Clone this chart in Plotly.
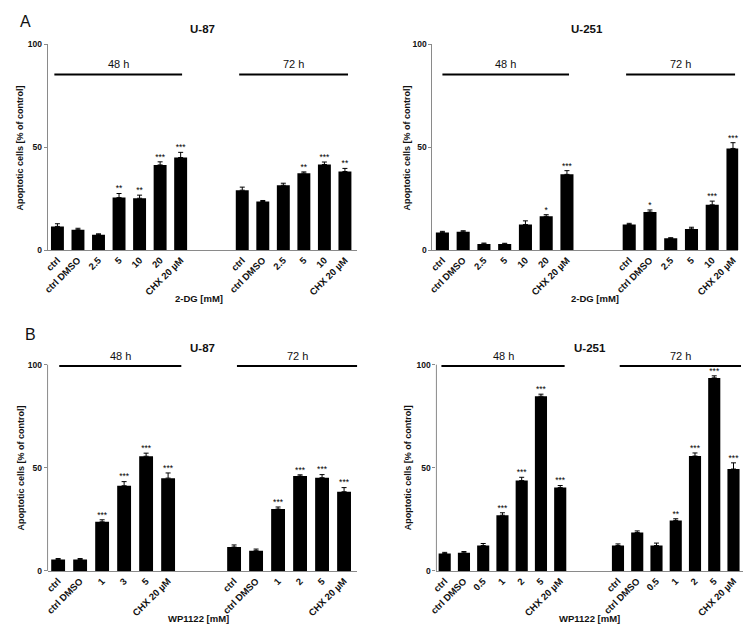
import plotly.graph_objects as go

W, H = 755, 634

# ---------------- data ----------------
# Panel A, U-87 (2-DG)
a87_cats_48 = ["ctrl", "ctrl DMSO", "2.5", "5", "10", "20", "CHX 20 µM"]
a87_vals_48 = [11.5, 9.9, 7.5, 25.5, 25.2, 41.4, 45.0]
a87_err_48 = [1.3, 0.7, 0.4, 2.0, 1.5, 1.5, 2.5]
a87_sig_48 = ["", "", "", "**", "**", "***", "***"]
a87_cats_72 = ["ctrl", "ctrl DMSO", "2.5", "5", "10", "CHX 20 µM"]
a87_vals_72 = [29.1, 23.6, 31.5, 37.4, 41.6, 38.2]
a87_err_72 = [1.5, 0.5, 1.0, 0.6, 1.2, 1.5]
a87_sig_72 = ["", "", "", "**", "***", "**"]

# Panel A, U-251 (2-DG)
a251_cats_48 = ["ctrl", "ctrl DMSO", "2.5", "5", "10", "20", "CHX 20 µM"]
a251_vals_48 = [8.6, 8.9, 3.0, 2.9, 12.4, 16.4, 36.8]
a251_err_48 = [0.5, 0.5, 0.4, 0.4, 1.8, 0.8, 1.8]
a251_sig_48 = ["", "", "", "", "", "*", "***"]
a251_cats_72 = ["ctrl", "ctrl DMSO", "2.5", "5", "10", "CHX 20 µM"]
a251_vals_72 = [12.4, 18.5, 5.7, 10.3, 22.0, 49.4]
a251_err_72 = [0.6, 1.0, 0.3, 0.8, 1.8, 2.8]
a251_sig_72 = ["", "*", "", "", "***", "***"]

# Panel B, U-87 (WP1122)
b87_cats_48 = ["ctrl", "ctrl DMSO", "1", "3", "5", "CHX 20 µM"]
b87_vals_48 = [5.6, 5.6, 23.8, 41.3, 55.6, 45.0]
b87_err_48 = [0.4, 0.4, 1.0, 2.0, 1.5, 2.5]
b87_sig_48 = ["", "", "***", "***", "***", "***"]
b87_cats_72 = ["ctrl", "ctrl DMSO", "1", "2", "5", "CHX 20 µM"]
b87_vals_72 = [11.6, 9.8, 30.0, 46.0, 45.2, 38.4]
b87_err_72 = [1.0, 0.8, 1.0, 0.6, 1.5, 2.0]
b87_sig_72 = ["", "", "***", "***", "***", "***"]

# Panel B, U-251 (WP1122)
b251_cats_48 = ["ctrl", "ctrl DMSO", "0.5", "1", "2", "5", "CHX 20 µM"]
b251_vals_48 = [8.4, 8.8, 12.3, 27.0, 43.8, 84.7, 40.4]
b251_err_48 = [0.6, 0.6, 1.0, 1.2, 1.6, 1.0, 1.0]
b251_sig_48 = ["", "", "", "***", "***", "***", "***"]
b251_cats_72 = ["ctrl", "ctrl DMSO", "0.5", "1", "2", "5", "CHX 20 µM"]
b251_vals_72 = [12.3, 18.6, 12.3, 24.5, 55.7, 93.6, 49.4]
b251_err_72 = [0.8, 0.8, 1.2, 0.8, 1.5, 1.0, 3.0]
b251_sig_72 = ["", "", "", "**", "***", "***", "***"]

y_ticks = [0, 50, 100]
group_labels = ["48 h", "72 h"]

# ---------------- layout config (pixels) ----------------
panels = [
    dict(name="U-87", xlabel="2-DG [mM]",
         d48=(a87_cats_48, a87_vals_48, a87_err_48, a87_sig_48),
         d72=(a87_cats_72, a87_vals_72, a87_err_72, a87_sig_72),
         px=(40, 353), py=(249, 40), yr=(0, 100), xr=(-0.48, 14.6),
         line_y=85.4, span48=(-0.15, 0.07), span72=(-0.15, 0.15),
         title_xy=(197, 24), ytitle_xy=(12, 145), xtitle_xy=(193, 298), spine=False),
    dict(name="U-251", xlabel="2-DG [mM]",
         d48=(a251_cats_48, a251_vals_48, a251_err_48, a251_sig_48),
         d72=(a251_cats_72, a251_vals_72, a251_err_72, a251_sig_72),
         px=(429, 738), py=(249, 40), yr=(0, 100), xr=(-0.48, 14.25),
         line_y=85.4, span48=(0.0, 0.1), span72=(-0.15, 0.1),
         title_xy=(585, 24), ytitle_xy=(403, 145), xtitle_xy=(593, 298), spine=False),
    dict(name="U-87", xlabel="WP1122 [mM]",
         d48=(b87_cats_48, b87_vals_48, b87_err_48, b87_sig_48),
         d72=(b87_cats_72, b87_vals_72, b87_err_72, b87_sig_72),
         px=(40, 353), py=(575, 344.5), yr=(0, 110), xr=(-0.48, 13.6),
         line_y=99.4, span48=(0.05, 0.6), span72=(0.13, 0.6),
         title_xy=(197, 348), ytitle_xy=(13, 470), xtitle_xy=(193, 623), spine=True),
    dict(name="U-251", xlabel="WP1122 [mM]",
         d48=(b251_cats_48, b251_vals_48, b251_err_48, b251_sig_48),
         d72=(b251_cats_72, b251_vals_72, b251_err_72, b251_sig_72),
         px=(433, 743), py=(575, 344.5), yr=(0, 110), xr=(-0.43, 15.5),
         line_y=99.4, span48=(-0.17, 0.23), span72=(0.09, 0.39),
         title_xy=(588, 348), ytitle_xy=(404, 470), xtitle_xy=(588, 623), spine=True),
]

FONT = "Liberation Sans, Arial, sans-serif"
AXIS_GRAY = "#8a8a8a"

fig = go.Figure()
layout = dict(width=W, height=H, margin=dict(l=0, r=0, t=0, b=0),
              paper_bgcolor="white", plot_bgcolor="white", showlegend=False,
              font=dict(family=FONT, color="#111"))
shapes, annotations = [], []

def px2x(p):
    return p / W

def py2y(p):
    return 1 - p / H

def paper_text(xy, text, size, angle=0):
    return dict(xref="paper", yref="paper", x=px2x(xy[0]), y=py2y(xy[1]),
                xanchor="center", yanchor="middle", text=text, textangle=angle,
                showarrow=False, font=dict(size=size, family=FONT, color="#111"))

for i, p in enumerate(panels):
    k = "" if i == 0 else str(i + 1)
    xa, ya = "x" + k, "y" + k
    cats48, vals48, err48, sig48 = p["d48"]
    cats72, vals72, err72, sig72 = p["d72"]
    pos48 = list(range(len(cats48)))
    start72 = len(cats48) + 2
    pos72 = [start72 + j for j in range(len(cats72))]
    xs = pos48 + pos72
    vals = vals48 + vals72
    errs = err48 + err72
    sigs = sig48 + sig72
    cats = cats48 + cats72

    fig.add_trace(go.Bar(
        x=xs, y=vals, width=0.63, marker=dict(color="black", line=dict(width=0)),
        error_y=dict(type="data", array=errs, arrayminus=[0] * len(errs), symmetric=False,
                     color="black", thickness=1, width=2.5),
        xaxis=xa, yaxis=ya, hoverinfo="skip"))
    fig.add_trace(go.Scatter(
        x=xs, y=[v + e for v, e in zip(vals, errs)], mode="text", text=sigs,
        textposition="top center", textfont=dict(size=8.5, family=FONT, color="black"),
        cliponaxis=False, xaxis=xa, yaxis=ya, hoverinfo="skip"))

    layout["xaxis" + k] = dict(
        domain=[px2x(p["px"][0]), px2x(p["px"][1])], anchor=ya, range=list(p["xr"]),
        tickmode="array", tickvals=xs, ticktext=cats, tickangle=-45,
        tickfont=dict(size=9.5, family=FONT, color="#111", weight="bold"),
        showline=True, linecolor=AXIS_GRAY, linewidth=1, ticks="", showgrid=False,
        zeroline=False, fixedrange=True)
    layout["yaxis" + k] = dict(
        domain=[py2y(p["py"][0]), py2y(p["py"][1])], anchor=xa, range=list(p["yr"]),
        tickmode="array", tickvals=y_ticks, ticktext=[str(t) for t in y_ticks],
        tickfont=dict(size=8.5, family=FONT, color="#111", weight="bold"),
        showline=not p["spine"], linecolor=AXIS_GRAY, linewidth=1,
        ticks="outside", ticklen=3, tickcolor=AXIS_GRAY, showgrid=False,
        zeroline=False, fixedrange=True)
    if p["spine"]:
        shapes.append(dict(type="line", xref=xa + " domain", yref=ya, x0=0, x1=0,
                           y0=0, y1=100, line=dict(color=AXIS_GRAY, width=1)))

    # group lines and labels
    for lbl, pos, span in ((group_labels[0], pos48, p["span48"]),
                           (group_labels[1], pos72, p["span72"])):
        x0 = pos[0] + span[0]
        x1 = pos[-1] + span[1]
        shapes.append(dict(type="line", xref=xa, yref=ya, x0=x0, x1=x1,
                           y0=p["line_y"], y1=p["line_y"],
                           line=dict(color="black", width=2)))
        annotations.append(dict(xref=xa, yref=ya, x=(x0 + x1) / 2, y=p["line_y"],
                                xanchor="center", yanchor="middle",
                                yshift=10, text=lbl, showarrow=False,
                                font=dict(size=11, family=FONT, color="#111")))

    annotations.append(paper_text(p["title_xy"], "<b>" + p["name"] + "</b>", 11.5))
    annotations.append(paper_text(p["ytitle_xy"], "<b>Apoptotic cells [% of control]</b>", 9, -90))
    annotations.append(paper_text(p["xtitle_xy"], "<b>" + p["xlabel"] + "</b>", 9.5))

annotations.append(paper_text((18, 17), "A", 16))
annotations.append(paper_text((23, 335), "B", 16))

layout["shapes"] = shapes
layout["annotations"] = annotations
fig.update_layout(**layout)
fig.write_html("out.html", config={"displayModeBar": False},
               post_script="document.body.style.margin='0px';")
